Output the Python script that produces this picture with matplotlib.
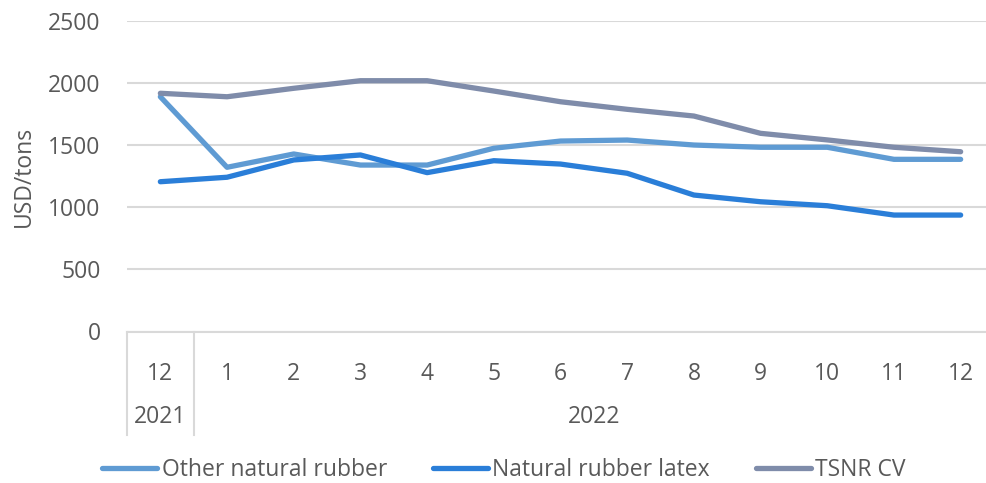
import matplotlib.pyplot as plt
import matplotlib.transforms as mtransforms

plt.rcParams['font.family'] = ['Open Sans', 'DejaVu Sans']

# Monthly prices, Dec 2021 through Dec 2022 (USD/tons)
months = ['12', '1', '2', '3', '4', '5', '6', '7', '8', '9', '10', '11', '12']
years = ['2021', '2022']
year_spans = [(0, 1), (1, 13)]  # first and last+1 category index of each year

other_rubber = [1887, 1320, 1427, 1338, 1338, 1473, 1531, 1539, 1499, 1481, 1481, 1384, 1384]
latex = [1204, 1240, 1379, 1419, 1277, 1373, 1346, 1272, 1097, 1043, 1011, 936, 936]
tsnr_cv = [1915, 1887, 1955, 2016, 2016, 1933, 1847, 1786, 1732, 1593, 1540, 1481, 1445]

series = [
    ('Other natural rubber', other_rubber, '#5f9bd3'),
    ('Natural rubber latex', latex, '#2a7ed8'),
    ('TSNR CV', tsnr_cv, '#7f8caa'),
]

text_color = '#595959'
grid_color = '#d9d9d9'
fs = 16.5

W, H = 986, 483
fig = plt.figure(figsize=(W / 100, H / 100), dpi=100)
left, right, top, bottom = 127, 994, 20.5, 331.5
ax = fig.add_axes([left / W, 1 - bottom / H, (right - left) / W, (bottom - top) / H])

x = list(range(len(months)))
for name, vals, color in series:
    ax.plot(x, vals, color=color, lw=3.8, label=name, solid_capstyle='round',
            solid_joinstyle='round')

ax.set_xlim(-0.5, len(months) - 0.5)
ax.set_ylim(0, 2500)
ax.set_yticks(range(0, 2501, 500))
ax.yaxis.grid(True, color=grid_color, lw=1.5)
ax.set_axisbelow(True)

for s in ['top', 'right', 'left']:
    ax.spines[s].set_visible(False)
ax.spines['bottom'].set_color(grid_color)
ax.spines['bottom'].set_linewidth(1.5)

ax.tick_params(axis='y', length=0, pad=19, labelsize=fs, labelcolor=text_color)
ax.set_xticks(x)
ax.set_xticklabels(months)
ax.tick_params(axis='x', length=0, pad=22, labelsize=fs, labelcolor=text_color)

ax.set_ylabel('USD/tons', fontsize=fs, color=text_color, labelpad=9)

# second level of the category axis: year labels and group separators
trans = mtransforms.blended_transform_factory(ax.transData, ax.transAxes)
sep_depth = -(435 - bottom) / (bottom - top)
year_y = -(417 - bottom) / (bottom - top)
for yr, (a, b) in zip(years, year_spans):
    ax.text((a + b - 1) / 2, year_y, yr, transform=trans, ha='center', va='center',
            fontsize=fs, color=text_color)
for edge in [-0.5, 0.5]:
    ax.plot([edge, edge], [0, sep_depth], transform=trans, color=grid_color,
            lw=1.5, clip_on=False)

fig.legend(loc='center', bbox_to_anchor=(504 / W, 1 - 470 / H), ncol=3, frameon=False,
           fontsize=fs, labelcolor=text_color, handlelength=2.4, handletextpad=0.2,
           columnspacing=2.0)

fig.savefig('out.png', dpi=100)
